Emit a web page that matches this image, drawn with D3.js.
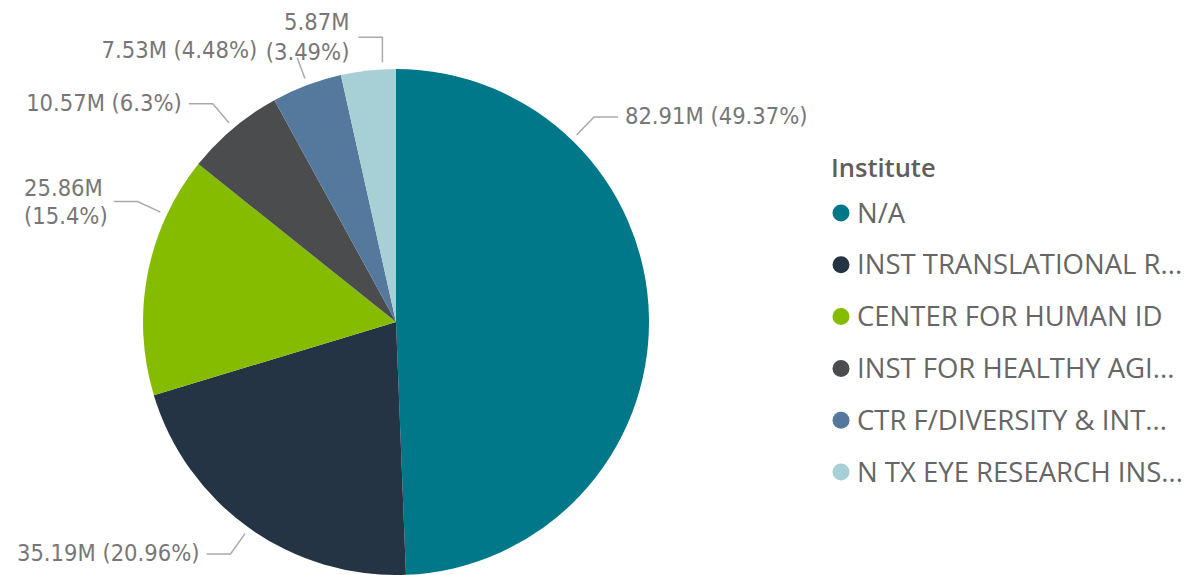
<!DOCTYPE html>
<html>
<head>
<meta charset="utf-8">
<title>Institute pie</title>
<script src="https://cdn.jsdelivr.net/npm/d3@7"></script>
<style>
  body { margin: 0; background: #fff; }
  svg { display: block; }
  .lbl { font-family: "DejaVu Sans Condensed", "DejaVu Sans", sans-serif; font-size: 23.5px; fill: #777; }
  .leg { font-family: "Open Sans", "Noto Sans", sans-serif; fill: #666; }
</style>
</head>
<body>
<svg id="chart"></svg>
<script>
// data (millions)
var institutes = ["N/A", "INST TRANSLATIONAL R...", "CENTER FOR HUMAN ID",
                  "INST FOR HEALTHY AGI...", "CTR F/DIVERSITY & INT...", "N TX EYE RESEARCH INS..."];
var amounts = [82.91, 35.19, 25.86, 10.57, 7.53, 5.87];
var percents = ["49.37%", "20.96%", "15.4%", "6.3%", "4.48%", "3.49%"];
var colors = ["#01788a", "#243444", "#86bc00", "#4b4c4e", "#55799c", "#a7cfd6"];

var width = 1204, height = 575;
var cx = 396, cy = 322, radius = 253;

var svg = d3.select("#chart").attr("width", width).attr("height", height);
var g = svg.append("g").attr("transform", "translate(" + cx + "," + cy + ")");

var pie = d3.pie().sort(null).value(function(d) { return d; });
var arcs = pie(amounts);
var arc = d3.arc().innerRadius(0).outerRadius(radius);

g.selectAll("path.slice")
  .data(arcs)
  .enter().append("path")
  .attr("class", "slice")
  .attr("d", arc)
  .attr("fill", function(d, i) { return colors[i]; });

// leader lines - Power BI puts them wherever it likes, so angles are picked per slice
var leaderDeg = [44, 215.5, 295, 320, 339.5, 357];
function pt(deg, r) {
  var a = deg * Math.PI / 180;
  return [r * Math.sin(a), -r * Math.cos(a)];
}

var labels = g.append("g");
arcs.forEach(function(d, i) {
  var deg = leaderDeg[i];
  var p0 = pt(deg, radius + 7), p1, p2, side;
  var txt = amounts[i].toFixed(2) + "M (" + percents[i] + ")";
  if (i === 5) {
    p1 = [p0[0], p0[1] - 25];
    p2 = [p1[0] - 24, p1[1]];
  } else if (i === 4) {
    p1 = pt(deg, radius + 29);
    p2 = p1;
  } else {
    p1 = pt(deg, radius + 32);
    side = p1[0] > 0 ? 1 : -1;
    p2 = [p1[0] + side * 24, p1[1]];
  }
  labels.append("polyline")
    .attr("points", [p0, p1, p2].map(function(p) { return p.join(","); }).join(" "))
    .attr("fill", "none").attr("stroke", "#aaa").attr("stroke-width", 1.5);

  if (i === 4) {
    labels.append("text").attr("class", "lbl")
      .attr("x", p1[0] - 40).attr("y", p1[1] - 8)
      .attr("text-anchor", "end").attr("dy", "0.35em").text(txt);
  } else if (i === 5) {
    // wrapped, right aligned
    var t5 = labels.append("text").attr("class", "lbl").attr("text-anchor", "end");
    [amounts[i].toFixed(2) + "M", "(" + percents[i] + ")"].forEach(function(l, k) {
      t5.append("tspan").attr("x", p2[0] - 9).attr("y", p2[1] - 16 + k * 30)
        .attr("dy", "0.35em").text(l);
    });
  } else if (i === 2) {
    // wrapped, left aligned block ending near the leader
    var t = labels.append("text").attr("class", "lbl");
    [amounts[i].toFixed(2) + "M", "(" + percents[i] + ")"].forEach(function(l, k) {
      t.append("tspan").attr("x", 0).attr("y", p2[1] - 14 + k * 28).attr("dy", "0.35em").text(l);
    });
    var w = t.node().getBBox().width;
    t.attr("transform", "translate(" + (p2[0] - 6 - w) + ",0)");
  } else {
    labels.append("text").attr("class", "lbl")
      .attr("x", p2[0] + side * 7).attr("y", p2[1] - 1)
      .attr("dy", "0.35em")
      .attr("text-anchor", side > 0 ? "start" : "end")
      .text(txt);
  }
});

// legend
var legend = svg.append("g").attr("transform", "translate(831,0)");
legend.append("text").attr("class", "leg")
  .attr("x", 0).attr("y", 168).attr("dy", "0.35em")
  .style("font-size", "25.5px").style("font-weight", 600).style("fill", "#605e5c")
  .text("Institute");

var y = d3.scalePoint().domain(institutes).range([213, 472]);
var item = legend.selectAll("g.item")
  .data(institutes)
  .enter().append("g")
  .attr("class", "item")
  .attr("transform", function(d) { return "translate(0," + y(d) + ")"; });
item.append("circle").attr("cx", 10).attr("cy", 0).attr("r", 8.5)
  .attr("fill", function(d, i) { return colors[i]; });
item.append("text").attr("class", "leg")
  .attr("x", 26).attr("y", 0).attr("dy", "0.35em")
  .style("font-size", "27.5px")
  .text(function(d) { return d; });
</script>
</body>
</html>
